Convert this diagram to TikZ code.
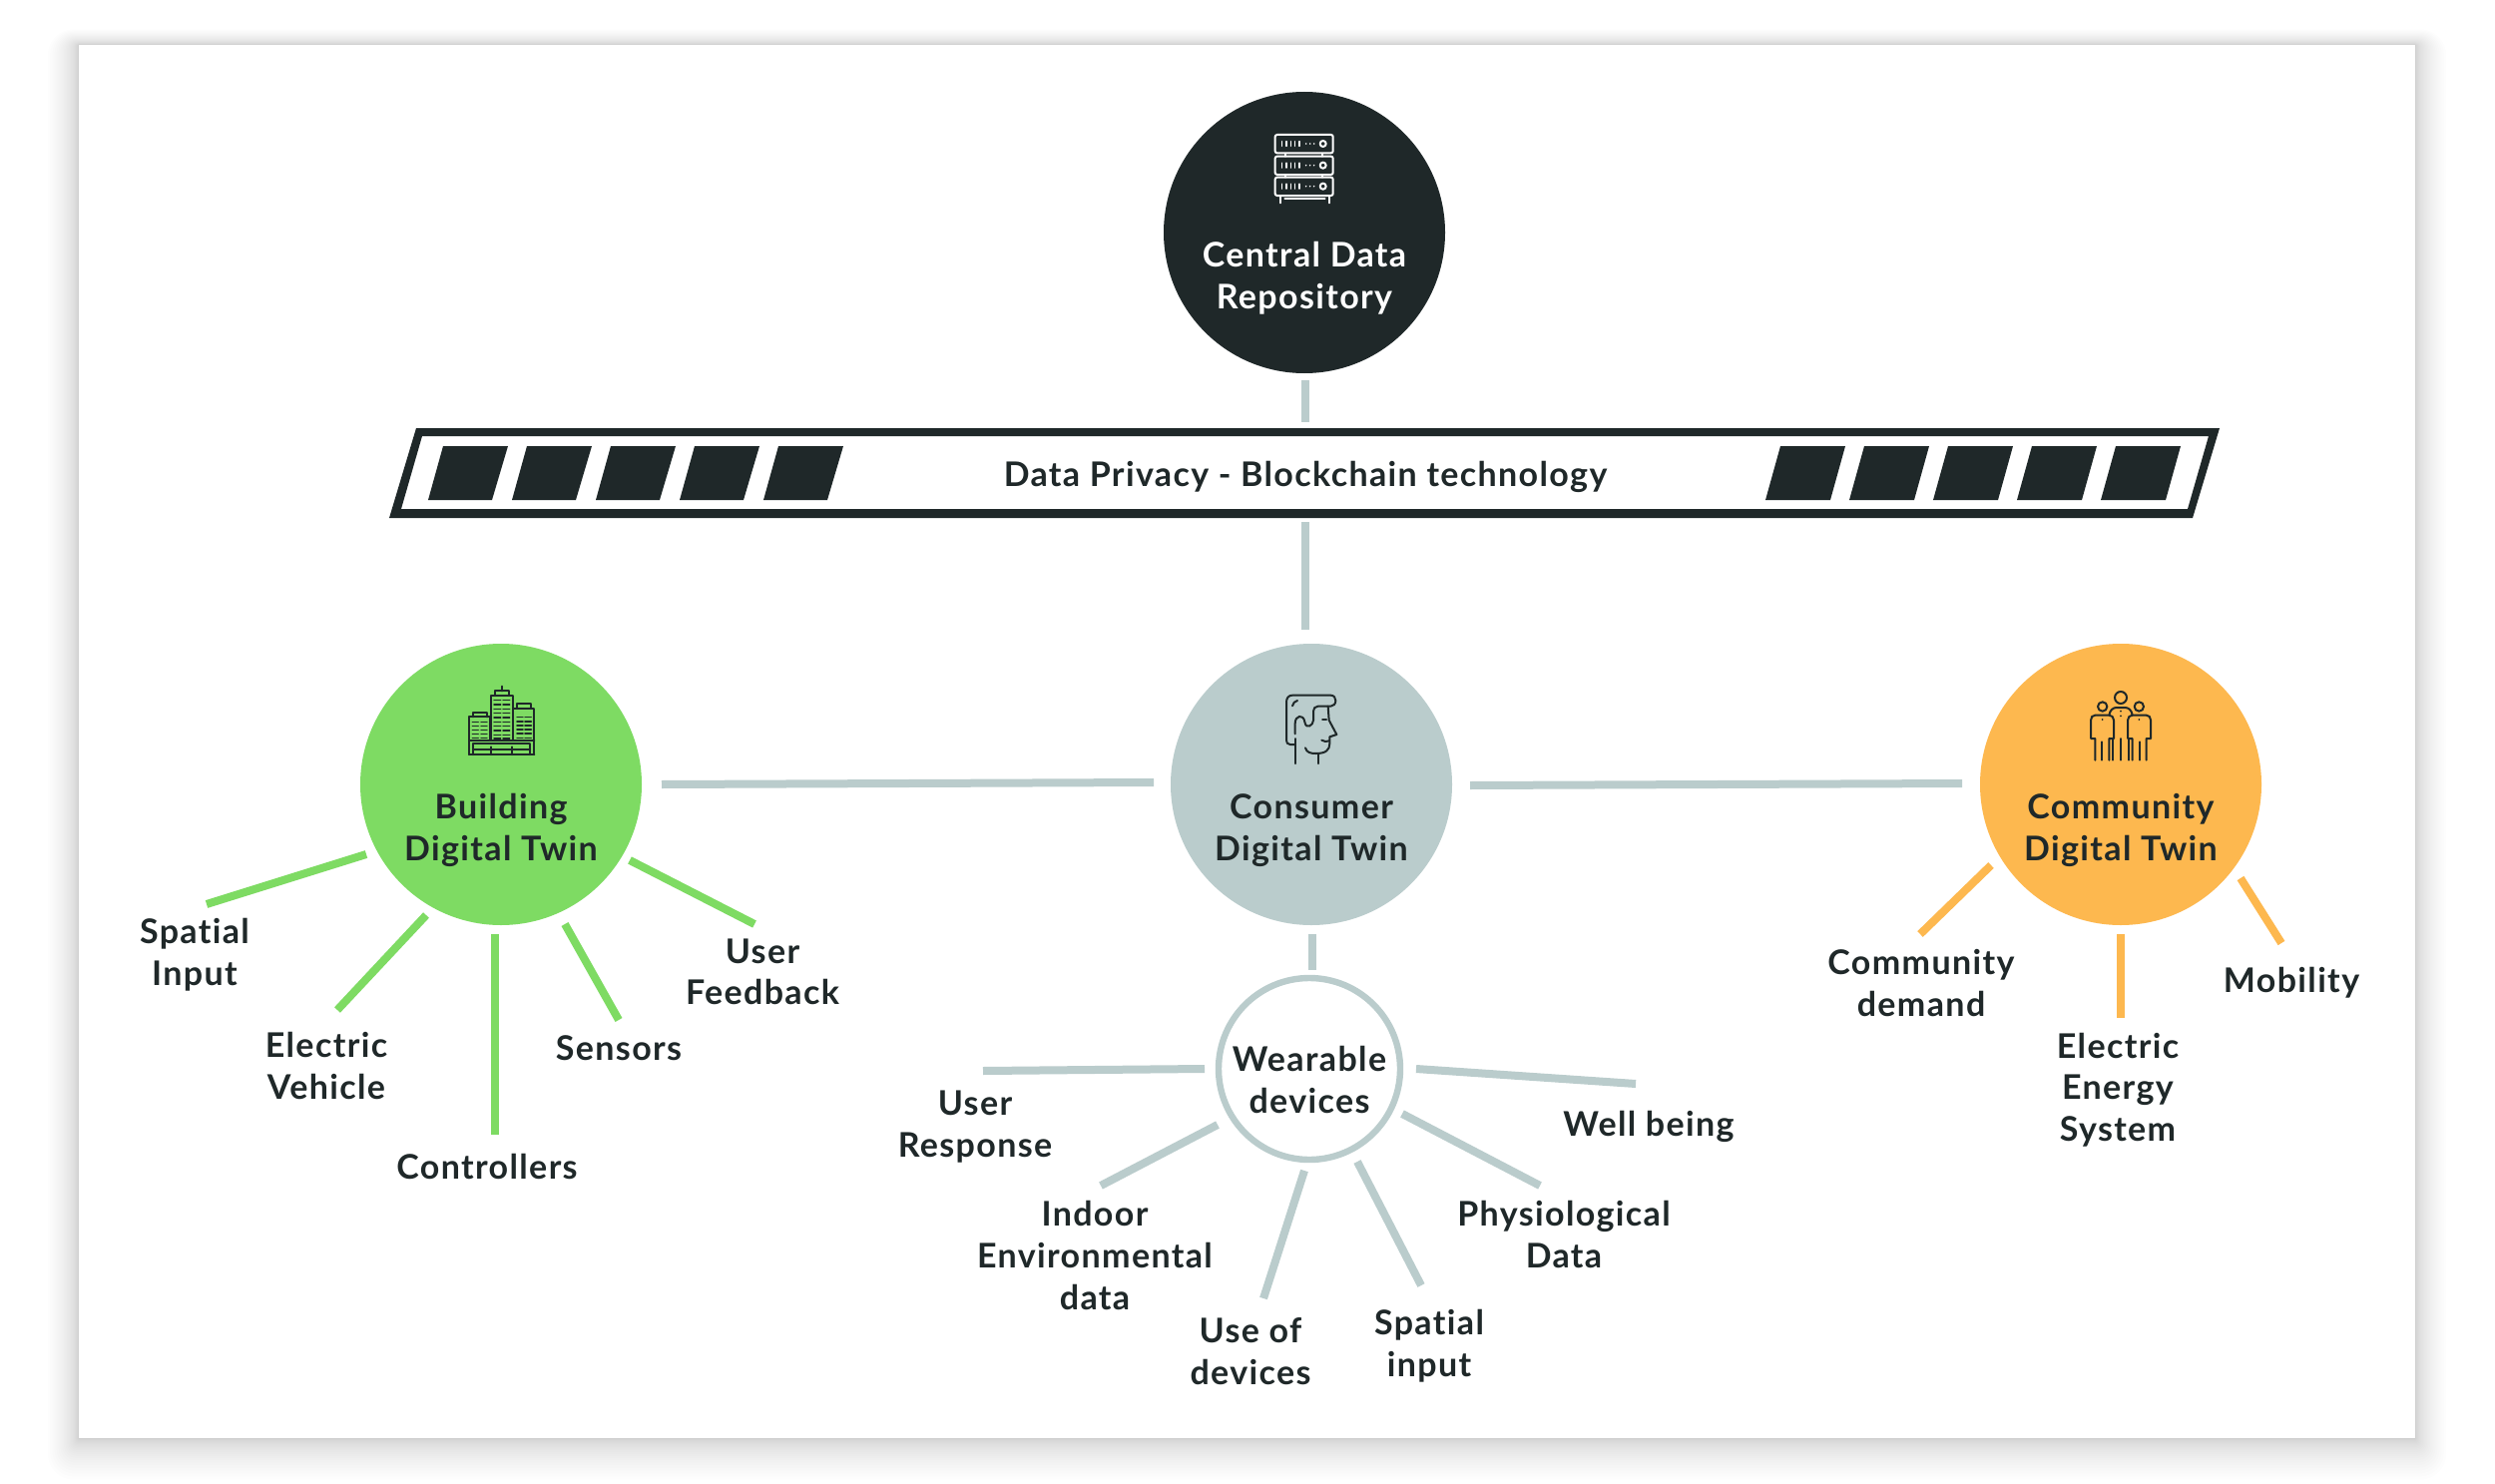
\documentclass[tikz,border=0pt]{standalone}
\usepackage{fontspec}
\setmainfont{Lato}[LetterSpace=4,Ligatures=NoCommon]
\definecolor{ink}{HTML}{1F2829}
\definecolor{leaf}{HTML}{7EDB63}
\definecolor{mist}{HTML}{BACCCC}
\definecolor{amber}{HTML}{FDB84F}
\tikzset{
  circ/.style={circle,minimum size=282pt*0.5,inner sep=0pt},
  lbl/.style={font=\fontsize{17}{20.8}\selectfont\bfseries,text=ink,align=center,inner sep=0pt},
  lnk/.style={line width=4pt},
  icon/.style={line width=1pt,line cap=round,line join=round},
  iconscope/.style={x=0.16667pt,y=-0.16667pt}
}
\begin{document}
\begin{tikzpicture}[x=0.5pt,y=-0.5pt]
\useasboundingbox (0,0) rectangle (2500,1487);
\fill[white] (0,0) rectangle (2500,1487);
% shadow
\foreach \i in {1,...,26}{
  \pgfmathsetmacro{\e}{\i*\i/26}
  \fill[black,opacity=0.0075,rounded corners=\e*0.5pt]
    (79-\e*1.2,45-\e*0.6) rectangle (2420+\e*1.2,1441+\e*1.6);
}
\fill[white] (79,45) rectangle (2420,1441);
% connector ends
\coordinate (a1) at (1308,381); \coordinate (a2) at (1308,423);
\coordinate (b1) at (1308,523); \coordinate (b2) at (1308,631);
\coordinate (c1) at (663,786);  \coordinate (c2) at (1156,784);
\coordinate (d1) at (1473,787); \coordinate (d2) at (1966,785);
\coordinate (e1) at (1315,936); \coordinate (e2) at (1315,972);
% nodes
\node[circ,fill=ink] (central) at (1307,233) {};
\node[circ,fill=leaf] (building) at (502,786) {};
\node[circ,fill=mist] (consumer) at (1314,786) {};
\node[circ,fill=amber] (community) at (2125,786) {};
\node[circle,minimum size=91pt,inner sep=0pt,draw=mist,line width=3.2pt,fill=white] (wearable) at (1312,1071) {};
\node[lbl,text=white] (tcentral) at (1307,279) {Central Data\\Repository};
\node[lbl] (tbuilding) at (502,832) {Building\\Digital Twin};
\node[lbl] (tconsumer) at (1314,832) {Consumer\\Digital Twin};
\node[lbl] (tcommunity) at (2125,832) {Community\\Digital Twin};
\node[lbl] (twearable) at (1312,1082) {Wearable\\devices};
% banner
\fill[ink,even odd rule] (417,429) -- (2224,429) -- (2197,519) -- (390,519) -- cycle
  (423,437) -- (2213,437) -- (2192,510) -- (402,510) -- cycle;
\foreach \i in {0,...,4}{
  \fill[ink] (444+\i*84,447) -- (509+\i*84,447) -- (493+\i*84,501) -- (429+\i*84,501) -- cycle;
  \fill[ink] (1784+\i*84,447) -- (1849+\i*84,447) -- (1834+\i*84,501) -- (1769+\i*84,501) -- cycle;
}
\node[lbl] (tbanner) at (1308,478) {Data Privacy - Blockchain technology};
% trunk connectors
\draw[lnk,mist] (a1) -- (a2);
\draw[lnk,mist] (b1) -- (b2);
\draw[lnk,mist] (c1) -- (c2);
\draw[lnk,mist] (d1) -- (d2);
\draw[lnk,mist] (e1) -- (e2);
% green spokes
\foreach \n/\xa/\ya/\xb/\yb in {g1/367/856/207/906, g2/427/917/338/1012, g3/496/936/496/1137, g4/566/926/620/1022, g5/631/862/756/926}{
  \coordinate (\n a) at (\xa,\ya); \coordinate (\n b) at (\xb,\yb);
  \draw[lnk,leaf] (\n a) -- (\n b);
}
% orange spokes
\foreach \n/\xa/\ya/\xb/\yb in {o1/1995/867/1924/936, o2/2125/936/2125/1020, o3/2245/880/2286/945}{
  \coordinate (\n a) at (\xa,\ya); \coordinate (\n b) at (\xb,\yb);
  \draw[lnk,amber] (\n a) -- (\n b);
}
% wearable spokes
\foreach \n/\xa/\ya/\xb/\yb in {w1/1207/1071/985/1073, w2/1220/1127/1103/1188, w3/1307/1173/1266/1301, w4/1360/1164/1424/1288, w5/1405/1116/1543/1188, w6/1419/1071/1639/1086}{
  \coordinate (\n a) at (\xa,\ya); \coordinate (\n b) at (\xb,\yb);
  \draw[lnk,mist] (\n a) -- (\n b);
}
% leaf labels
\node[lbl] (l1) at (195,957) {Spatial\\Input};
\node[lbl] (l2) at (327,1068) {Electric\\Vehicle};
\node[lbl] (l3) at (488,1169) {Controllers};
\node[lbl] (l4) at (620,1050) {Sensors};
\node[lbl] (l5) at (764,974) {User\\Feedback};
\node[lbl] (l6) at (1925,985) {Community\\demand};
\node[lbl] (l7) at (2122,1092) {Electric\\Energy\\System};
\node[lbl] (l8) at (2296,985) {Mobility};
\node[lbl] (l9) at (977,1129) {User\\Response};
\node[lbl] (l10) at (1097,1258) {Indoor\\Environmental\\data};
\node[lbl] (l11) at (1253,1354) {Use of\\devices};
\node[lbl] (l12) at (1432,1349) {Spatial\\input};
\node[lbl] (l13) at (1567,1237) {Physiological\\Data};
\node[lbl] (l14) at (1652,1129) {Well being};
% server icon
\begin{scope}[shift={(1150,80)},iconscope,icon,white]
  \foreach \y in {0,65,128}{
    \draw[rounded corners=1pt] (383,165+\y) rectangle (557,220+\y);
    \draw (527,192+\y) circle (9);
    \foreach \x in {404,417,430,443,456}{\draw[line width=.8pt] (\x,185+\y) -- (\x,199+\y);}
    \foreach \x in {476,488,500}{\fill (\x,192+\y) circle (2.6);}
  }
  \draw (400,350) -- (400,370);
  \draw (545,350) -- (545,370);
  \draw (412,357) -- (533,357);
  \draw (415,222) -- (415,230) (525,222) -- (525,230);
  \draw (415,287) -- (415,293) (525,287) -- (525,293);
\end{scope}
% building icon
\begin{scope}[shift={(420,660)},iconscope,icon,ink]
  \draw (150,288) -- (150,175) -- (213,175) -- (213,245);
  \draw (162,175) -- (162,162) -- (205,162) -- (205,175);
  \draw (215,245) -- (215,110) -- (282,110) -- (282,245);
  \draw (227,110) -- (227,97) -- (270,97) -- (270,110);
  \draw (248,97) -- (248,83);
  \draw (284,150) -- (346,150) -- (346,288);
  \draw (293,150) -- (293,136) -- (335,136) -- (335,150);
  \draw (150,288) -- (346,288);
  \draw (163,288) -- (163,255) -- (333,255) -- (333,288);
  \draw (163,272) -- (333,272);
  \draw (215,265) -- (215,288) (280,265) -- (280,288);
  \draw (150,245) -- (346,245);
  \foreach \y in {190,202,214,226,238}{
    \draw[line width=.7pt] (160,\y) -- (178,\y) (186,\y) -- (204,\y);
    \draw[line width=.7pt] (294,\y-15) -- (312,\y-15) (318,\y-15) -- (337,\y-15);
    \draw[line width=.7pt] (294,\y) -- (312,\y) (318,\y) -- (337,\y);
  }
  \foreach \y in {125,138,151,164,177,190,203,216,229,240}{
    \draw[line width=.7pt] (225,\y) -- (245,\y) (252,\y) -- (272,\y);
  }
\end{scope}
% head icon
\begin{scope}[shift={(1220,660)},iconscope,icon,ink]
  \draw (232,258) -- (218,258) .. controls (210,258) and (207,252) .. (207,245) -- (207,130)
    .. controls (207,118) and (214,110) .. (225,110) -- (340,110)
    .. controls (350,110) and (355,118) .. (355,126) .. controls (355,136) and (348,143) .. (340,143)
    -- (302,143) .. controls (293,143) and (288,150) .. (288,158) -- (288,185)
    .. controls (288,200) and (266,215) .. (262,190) .. controls (258,165) and (233,170) .. (233,195) -- (233,226);
  \draw (233,240) -- (233,315);
  \draw (332,143) -- (335,185) -- (358,228) -- (337,235) -- (337,255)
    .. controls (337,275) and (325,285) .. (295,285) .. controls (280,285) and (267,282) .. (264,268);
  \draw (304,285) -- (304,315);
  \draw (315,183) -- (327,183);
  \draw (313,245) .. controls (320,250) and (328,250) .. (336,247);
  \draw (225,142) .. controls (227,133) and (232,128) .. (240,126);
\end{scope}
% people icon
\begin{scope}[shift={(2030,660)},iconscope,icon,ink]
  \draw (285,117) circle (18);
  \draw (230,144) circle (14);
  \draw (340,144) circle (14);
  \draw (208,305) -- (208,240) -- (195,240) -- (195,185) .. controls (195,176) and (200,170) .. (208,170) -- (250,170)
     .. controls (258,170) and (264,176) .. (264,185) -- (264,240) -- (250,240) -- (250,305);
  \draw (227,250) -- (227,305);
  \draw (362,305) -- (362,240) -- (375,240) -- (375,185) .. controls (375,176) and (370,170) .. (362,170) -- (320,170)
     .. controls (312,170) and (306,176) .. (306,185) -- (306,240) -- (320,240) -- (320,305);
  \draw (343,250) -- (343,305);
  \draw (250,170) .. controls (252,155) and (262,147) .. (272,147) -- (298,147) .. controls (308,147) and (318,155) .. (320,170);
  \draw (262,240) -- (262,305) (285,240) -- (285,305) (308,240) -- (308,305);
  \foreach \p in {(285,158),(285,172),(230,183),(340,183)}{\fill \p circle (3);}
\end{scope}
\end{tikzpicture}
\end{document}
